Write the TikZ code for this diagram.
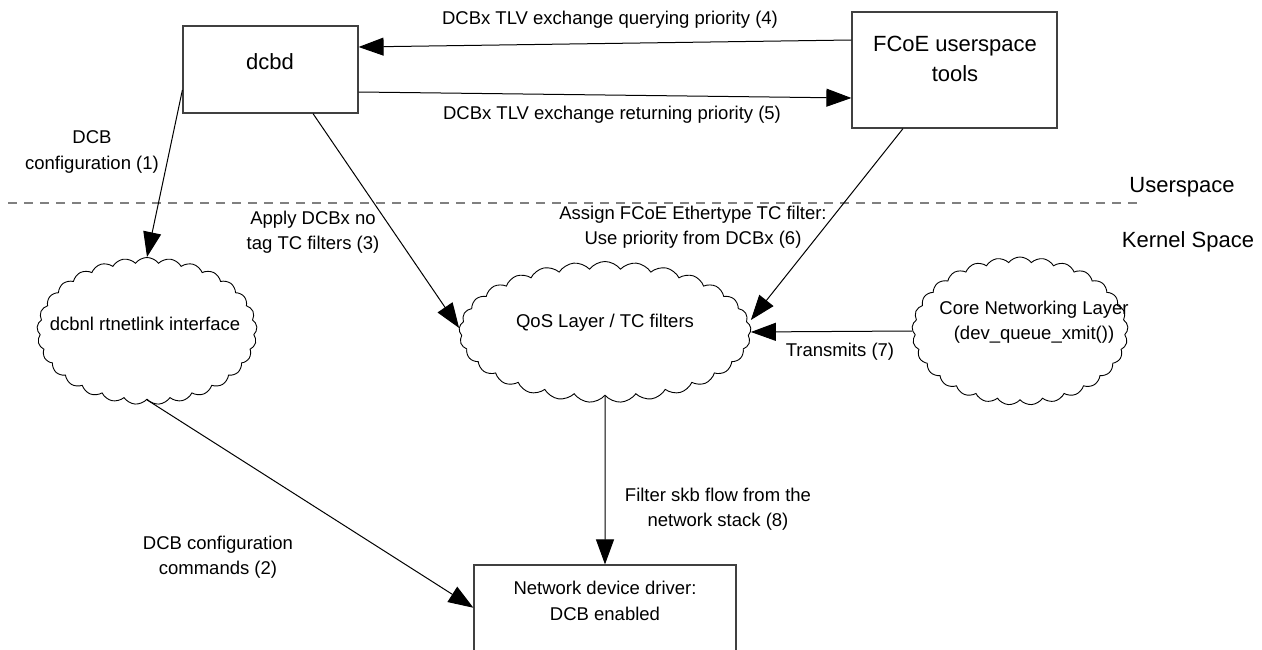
\documentclass[tikz,border=0pt]{standalone}
\usepackage{fontspec}
\setmainfont{Liberation Sans}
\usetikzlibrary{arrows.meta,shapes.symbols,calc}
\newcommand\lblfont{\fontsize{18.5}{25.5}\selectfont}
\newcommand\bigfont{\fontsize{22}{30}\selectfont}
\begin{document}
\begin{tikzpicture}[x=1pt,y=-1pt,
  box/.style={draw=black!75,line width=1.2pt,fill=white,inner sep=0pt,rectangle},
  cloudnode/.style={cloud,draw,line width=0.9pt,cloud puffs=29,cloud puff arc=105,cloud ignores aspect,inner sep=0pt},
  arr/.style={-{Triangle[length=25pt,width=18pt]},line width=1pt},
  lbl/.style={align=center,font=\lblfont,inner sep=0pt},
  biglbl/.style={align=center,font=\bigfont,inner sep=0pt},
  sep/.style={draw=black!50,line width=1.4pt,dash pattern=on 9pt off 7pt}]
\useasboundingbox[fill=white] (0,0) rectangle (1262,650);

% boxes
\node[box,minimum width=175pt,minimum height=87pt] (dcbd) at (270.5,69.5) {};
\node[biglbl] (dcbdtxt) at (270,62) {dcbd};
\node[box,minimum width=205pt,minimum height=116pt] (fcoe) at (954.5,70) {};
\node[biglbl] (fcoetxt) at (955,59) {FCoE userspace\\tools};
\node[box,minimum width=262pt,minimum height=85.5pt] (drv) at (605,607.75) {};
\node[lbl] (drvtxt) at (605,601) {Network device driver:\\DCB enabled};

% clouds
\node[cloudnode,minimum width=220pt,minimum height=147pt] (dcbnl) at (147,331) {};
\node[lbl] (dcbnltxt) at (145,324) {dcbnl rtnetlink interface};
\node[cloudnode,minimum width=292pt,minimum height=141pt] (qos) at (605,332) {};
\node[lbl] (qostxt) at (605,323) {QoS Layer / TC filters};
\node[cloudnode,minimum width=216pt,minimum height=148pt] (core) at (1020,331) {};
\node[lbl] (coretxt) at (1034,322) {Core Networking Layer\\(dev\_queue\_xmit())};

% separator
\coordinate (sepL) at (8,203);
\coordinate (sepR) at (1143,203);
\draw[sep] (sepL) -- (sepR);
\node[biglbl] (us) at (1182,187) {Userspace};
\node[biglbl] (ks) at (1188,242) {Kernel Space};

% connectors
\draw[arr] ($(fcoe.west)+(0,-30)$) -- ($(dcbd.east)+(0,-22.5)$);
\draw[arr] ($(dcbd.east)+(0,22.5)$) -- ($(fcoe.west)+(0,28)$);
\draw[arr] ($(dcbd.west)+(0,20.5)$) -- (dcbnl.north);
\draw[arr] ($(dcbd.south)+(42.5,0)$) -- ($(qos.west)+(0,-4)$);
\draw[arr] ($(fcoe.south)+(-51.5,0)$) -- ($(qos.east)+(0,-12)$);
\draw[arr] (core.west) -- (qos.east);
\draw[arr] (qos.south) -- (drv.north);
\draw[arr] (dcbnl.south) -- (drv.west);

% labels
\node[lbl] (l4) at (610,20) {DCBx TLV exchange querying priority (4)};
\node[lbl] (l5) at (612,115) {DCBx TLV exchange returning priority (5)};
\node[lbl] (l1) at (92,152) {DCB\\configuration (1)};
\node[lbl] (l3) at (313,232) {Apply DCBx no\\tag TC filters (3)};
\node[lbl] (l6) at (693,227) {Assign FCoE Ethertype TC filter:\\Use priority from DCBx (6)};
\node[lbl] (l7) at (840,352) {Transmits (7)};
\node[lbl] (l8) at (718,509) {Filter skb flow from the\\network stack (8)};
\node[lbl] (l2) at (218,557) {DCB configuration\\commands (2)};
\end{tikzpicture}
\end{document}
